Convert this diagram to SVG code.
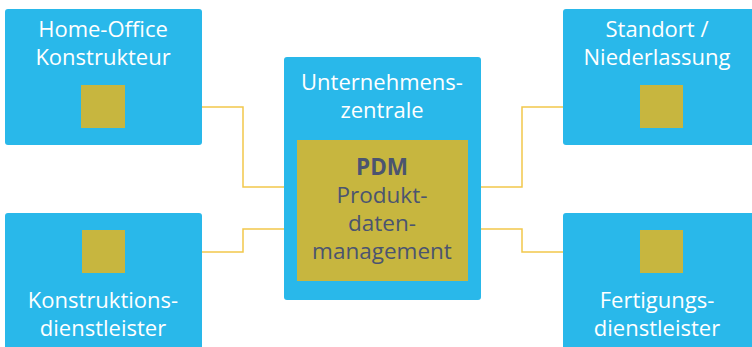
<svg xmlns="http://www.w3.org/2000/svg" width="752" height="347" viewBox="0 0 752 347">
<style>
.box{fill:#29B8EA}
.sq{fill:#C7B63F}
.t{font-family:"Open Sans","Liberation Sans",sans-serif;font-size:22px;fill:#FFFFFF;text-anchor:middle}
.d{font-family:"Open Sans","Liberation Sans",sans-serif;font-size:22.5px;fill:#4B5470;text-anchor:middle}
.c{fill:none;stroke:#F2C84B;stroke-width:1.5}
</style>
<rect width="752" height="347" fill="#FFFFFF"/>
<g id="connectors">
<polyline class="c" points="125,107 243,107 243,187 297,187"/>
<polyline class="c" points="125,252 243,252 243,229 297,229"/>
<polyline class="c" points="640,107 522,107 522,187 468,187"/>
<polyline class="c" points="640,252 522,252 522,229 468,229"/>
</g>
<g id="home-office">
<rect class="box" x="5" y="9" width="197" height="136" rx="3"/>
<rect class="sq" x="81" y="85" width="44" height="43"/>
<text class="t" x="103" y="37">Home-Office</text>
<text class="t" x="103" y="65">Konstrukteur</text>
</g>
<g id="konstruktionsdienstleister">
<rect class="box" x="5" y="213" width="197" height="140" rx="3"/>
<rect class="sq" x="82" y="230" width="43" height="43"/>
<text class="t" x="103" y="308">Konstruktions-</text>
<text class="t" x="103" y="336">dienstleister</text>
</g>
<g id="zentrale">
<rect class="box" x="284" y="57" width="197" height="243" rx="3"/>
<text class="t" x="382" y="90">Unternehmens-</text>
<text class="t" x="382" y="118">zentrale</text>
<rect class="sq" x="297" y="140" width="171" height="141"/>
<text class="d" x="382" y="175" font-weight="bold">PDM</text>
<text class="d" x="382" y="203">Produkt-</text>
<text class="d" x="382" y="231">daten-</text>
<text class="d" x="382" y="259">management</text>
</g>
<g id="standort">
<rect class="box" x="563" y="9" width="195" height="136" rx="3"/>
<rect class="sq" x="640" y="85" width="43" height="43"/>
<text class="t" x="657" y="37">Standort /</text>
<text class="t" x="657" y="65">Niederlassung</text>
</g>
<g id="fertigungsdienstleister">
<rect class="box" x="563" y="213" width="195" height="140" rx="3"/>
<rect class="sq" x="640" y="230" width="43" height="43"/>
<text class="t" x="657" y="308">Fertigungs-</text>
<text class="t" x="657" y="336">dienstleister</text>
</g>
</svg>
